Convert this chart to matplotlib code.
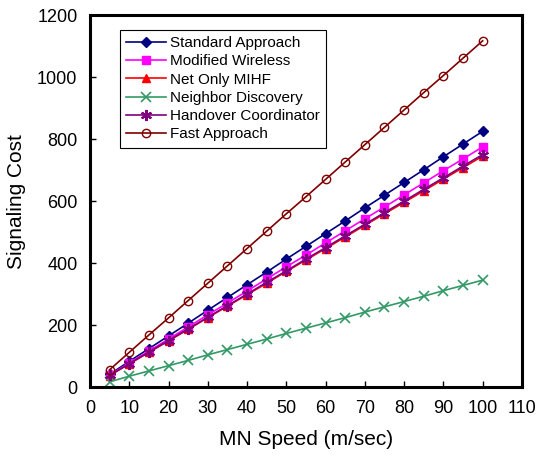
import matplotlib
matplotlib.use("Agg")
import matplotlib.pyplot as plt

plt.rcParams['font.family'] = ['Liberation Sans', 'DejaVu Sans']

speed = [5, 10, 15, 20, 25, 30, 35, 40, 45, 50, 55, 60, 65, 70, 75, 80, 85, 90, 95, 100]
standard = [41, 83, 124, 165, 206, 248, 289, 330, 371, 413, 454, 495, 536, 578, 619, 660, 701, 743, 784, 825]
modified = [39, 78, 116, 155, 194, 233, 271, 310, 349, 388, 426, 465, 504, 543, 581, 620, 659, 698, 736, 775]
net_only = [37, 75, 112, 149, 186, 224, 261, 298, 335, 373, 410, 447, 484, 522, 559, 596, 633, 671, 708, 745]
neighbor = [17, 35, 52, 69, 86, 104, 121, 138, 155, 173, 190, 207, 224, 242, 259, 276, 293, 311, 328, 345]
handover = [38, 75, 113, 150, 188, 225, 263, 300, 338, 375, 413, 450, 488, 525, 563, 600, 638, 675, 713, 750]
fast = [56, 112, 168, 223, 279, 335, 391, 447, 503, 559, 614, 670, 726, 782, 838, 894, 950, 1005, 1061, 1117]

fig = plt.figure(figsize=(5.42, 4.57), dpi=100)
ax = fig.add_axes([0.166, 0.153, 0.797, 0.814])

ax.plot(speed, standard, color='#000080', marker='D', ms=5, lw=1.2, label='Standard Approach')
ax.plot(speed, modified, color='#FF00FF', marker='s', ms=6, lw=1.2, label='Modified Wireless')
ax.plot(speed, net_only, color='#FF0000', marker='^', ms=6, lw=1.2, label='Net Only MIHF')
ax.plot(speed, neighbor, color='#339966', marker='x', ms=7, mew=1.2, lw=1.2, label='Neighbor Discovery')
ax.plot(speed, handover, color='#800080', marker=(6, 2, 0), ms=8, mew=1.5, lw=1.2, label='Handover Coordinator')
ax.plot(speed, fast, color='#800000', marker='o', ms=6, mfc='none', mew=1.0, lw=1.2, label='Fast Approach')

ax.set_xlim(0, 110)
ax.set_ylim(0, 1200)
ax.set_xticks(range(0, 111, 10))
ax.set_yticks(range(0, 1201, 200))
ax.tick_params(labelsize=13, direction='in', length=4, width=1, pad=9)
for s in ax.spines.values():
    s.set_linewidth(2.2)

ax.set_xlabel('MN Speed (m/sec)', fontsize=15, labelpad=10)
ax.set_ylabel('Signaling Cost', fontsize=15, labelpad=8)

leg = ax.legend(loc='upper left', bbox_to_anchor=(0.069, 0.96), fontsize=11,
                frameon=True, fancybox=False, edgecolor='black', framealpha=1,
                borderpad=0.4, labelspacing=0.28, handlelength=2.6, handletextpad=0.3,
                borderaxespad=0)
leg.get_frame().set_linewidth(0.8)

fig.savefig('out.png', dpi=100)
